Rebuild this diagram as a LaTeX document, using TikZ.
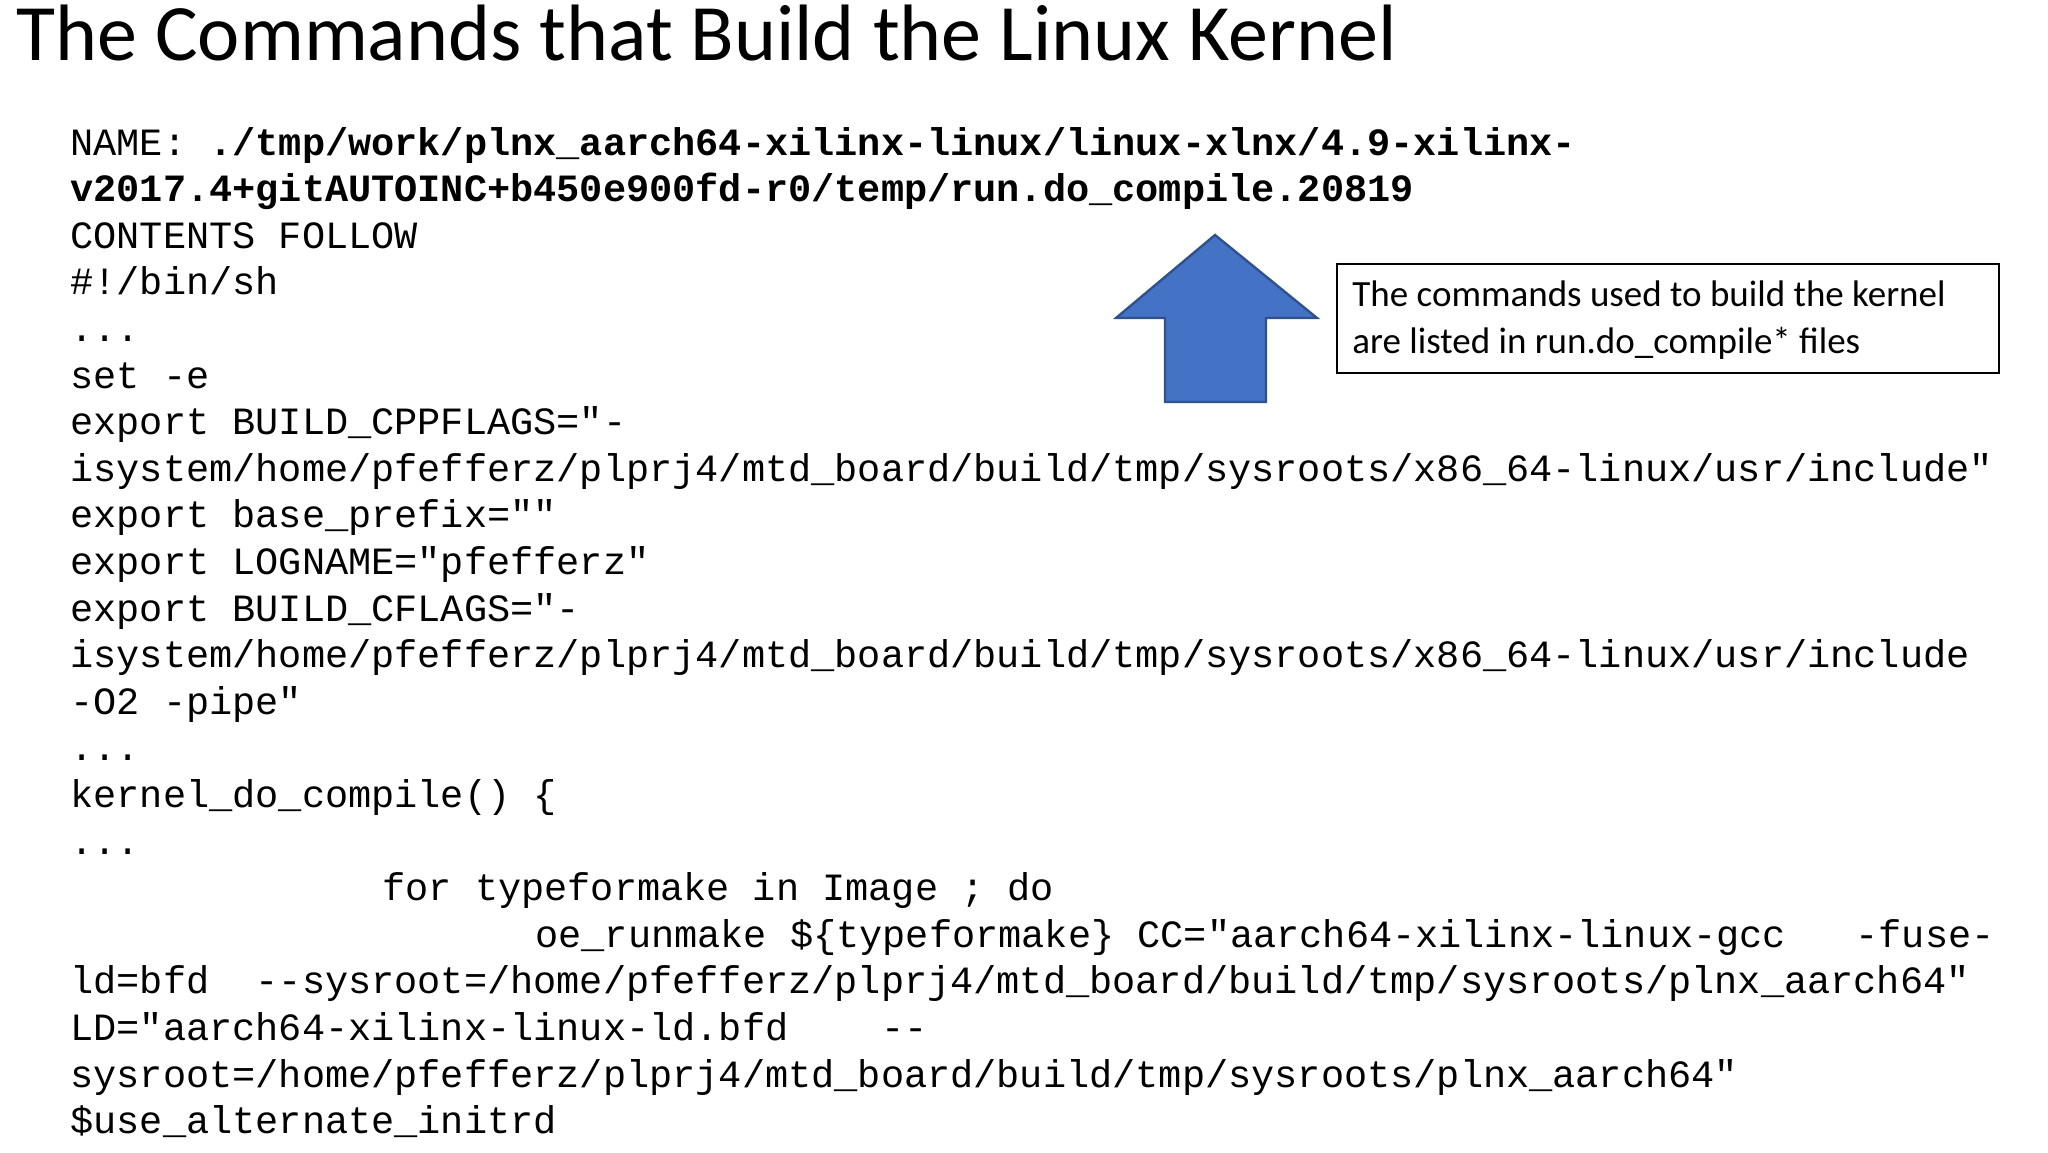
\documentclass[tikz,border=0pt]{standalone}
\usepackage{fontspec}
\setmainfont{Carlito}
\setmonofont{Liberation Mono}
\begin{document}
\begin{tikzpicture}[x=0.5pt,y=-0.5pt,
  code/.style={anchor=base west,inner sep=0pt,font=\fontsize{19.3}{23}\ttfamily},
  ttl/.style={anchor=base west,inner sep=0pt,font=\fontsize{40}{48}\selectfont}]
\useasboundingbox[fill=white] (0,0) rectangle (2048,1152);
\node[ttl] (title) at (16,60) {The Commands that Build the Linux Kernel};
\def\L#1#2#3{\node[code] (l#1) at (#2,155+46.6*#1-46.6) {#3};}
\L{1}{70}{NAME: \textbf{./tmp/work/plnx\_aarch64-xilinx-linux/linux-xlnx/4.9-xilinx-}}
\L{2}{70}{\textbf{v2017.4+gitAUTOINC+b450e900fd-r0/temp/run.do\_compile.20819}}
\L{3}{70}{CONTENTS FOLLOW}
\L{4}{70}{\#!/bin/sh}
\L{5}{70}{...}
\L{6}{70}{set -e}
\L{7}{70}{export BUILD\_CPPFLAGS="-}
\L{8}{70}{isystem/home/pfefferz/plprj4/mtd\_board/build/tmp/sysroots/x86\_64-linux/usr/include"}
\L{9}{70}{export base\_prefix=""}
\L{10}{70}{export LOGNAME="pfefferz"}
\L{11}{70}{export BUILD\_CFLAGS="-}
\L{12}{70}{isystem/home/pfefferz/plprj4/mtd\_board/build/tmp/sysroots/x86\_64-linux/usr/include}
\L{13}{70}{-O2 -pipe"}
\L{14}{70}{...}
\L{15}{70}{kernel\_do\_compile() \{}
\L{16}{70}{...}
\L{17}{382}{for typeformake in Image ; do}
\L{18}{535}{oe\_runmake \$\{typeformake\} CC="aarch64-xilinx-linux-gcc\ \ \ -fuse-}
\L{19}{70}{ld=bfd\ \ -{}-sysroot=/home/pfefferz/plprj4/mtd\_board/build/tmp/sysroots/plnx\_aarch64"}
\L{20}{70}{LD="aarch64-xilinx-linux-ld.bfd\ \ \ \ -{}-}
\L{21}{70}{sysroot=/home/pfefferz/plprj4/mtd\_board/build/tmp/sysroots/plnx\_aarch64"}
\L{22}{70}{\$use\_alternate\_initrd}
\draw[fill={rgb,255:red,68;green,114;blue,196},draw={rgb,255:red,47;green,82;blue,143},line width=1.2pt]
  (1215,235) -- (1317,318) -- (1266,318) -- (1266,402) -- (1165,402) -- (1165,318) -- (1116,318) -- cycle;
\node[draw,line width=0.8pt,minimum width=662*0.5pt,minimum height=109*0.5pt,inner sep=0pt] (box) at (1668,318.5) {};
\node[anchor=base west,inner sep=0pt,font=\fontsize{18.5}{22}\selectfont] (t1) at (1352,306) {The commands used to build the kernel};
\node[anchor=base west,inner sep=0pt,font=\fontsize{18.5}{22}\selectfont] (t2) at (1352,353) {are listed in run.do\_compile* files};
\end{tikzpicture}
\end{document}
